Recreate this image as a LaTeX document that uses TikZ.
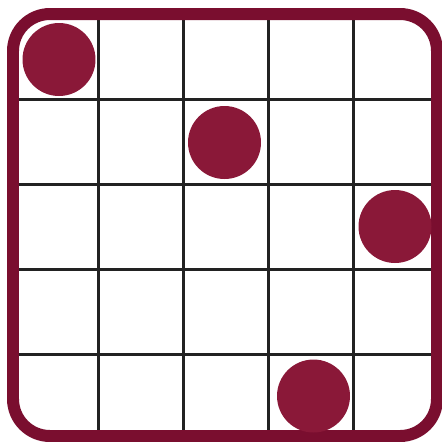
\documentclass[tikz,border=0pt]{standalone}
\usepackage{tikz}
\usetikzlibrary{positioning}
\definecolor{frame}{HTML}{7A0E2F}
\definecolor{piece}{HTML}{8A1838}
\definecolor{gridline}{HTML}{222222}
\tikzset{>=latex}
\tikzset{piece/.style={circle, fill=piece, inner sep=0pt, minimum size=1.46cm}}

\begin{document}
\begin{tikzpicture}[x=0.02cm, y=-0.02cm]
  \useasboundingbox (0,0) rectangle (442,441);
  % grid
  \foreach \x in {98,183,268,353}
    \draw[gridline, line width=0.06cm] (\x,14) -- (\x,436);
  \foreach \y in {99,184,269,354}
    \draw[gridline, line width=0.06cm] (13,\y) -- (437,\y);
  % border
  \draw[frame, line width=0.24cm, rounded corners=0.74cm] (13,14) rectangle (437,436);
  % pieces
  \node[piece] (p1) at (59,59.5) {};
  \node[piece] (p2) at (224.5,142.5) {};
  \node[piece] (p3) at (395,226.5) {};
  \node[piece] (p4) at (313.5,396) {};
\end{tikzpicture}
\end{document}
